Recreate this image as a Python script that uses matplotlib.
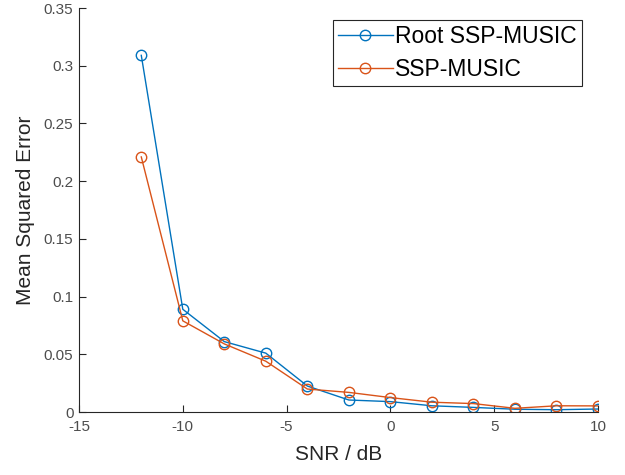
import matplotlib
matplotlib.use("Agg")
import matplotlib.pyplot as plt
import numpy as np

plt.rcParams['font.family'] = ['Liberation Sans', 'DejaVu Sans']
plt.rcParams['axes.unicode_minus'] = False

snr = [-12, -10, -8, -6, -4, -2, 0, 2, 4, 6, 8, 10]
mse_root = [0.309, 0.089, 0.061, 0.051, 0.0225, 0.0104, 0.0090, 0.0054, 0.0040, 0.0024, 0.0020, 0.0026]
mse_ssp = [0.221, 0.079, 0.059, 0.044, 0.0199, 0.0170, 0.0125, 0.0085, 0.0073, 0.0032, 0.0054, 0.0053]

blue = "#0072BD"
orange = "#D95319"
axcol = "#262626"
tickcol = "#4d4d4d"

fig = plt.figure(figsize=(6.25, 4.75), dpi=100)
ax = fig.add_axes([0.1264, 0.1326, 0.8304, 0.8505])

ax.plot(snr, mse_root, "-o", color=blue, lw=1.0, markersize=7.5, markerfacecolor="none", markeredgewidth=1.0, label="Root SSP-MUSIC")
ax.plot(snr, mse_ssp, "-o", color=orange, lw=1.0, markersize=7.5, markerfacecolor="none", markeredgewidth=1.0, label="SSP-MUSIC")

ax.set_xlim(-15, 10)
ax.set_ylim(0, 0.35)
ax.set_xticks(np.arange(-15, 11, 5))
ax.set_yticks(np.arange(0, 0.351, 0.05))
ax.set_yticklabels(["0", "0.05", "0.1", "0.15", "0.2", "0.25", "0.3", "0.35"])

ax.spines["top"].set_visible(False)
ax.spines["right"].set_visible(False)
for s in ["left", "bottom"]:
    ax.spines[s].set_color(axcol)
    ax.spines[s].set_linewidth(0.8)
ax.tick_params(direction="in", length=5, width=0.8, color=axcol, labelcolor=tickcol, labelsize=11)
ax.tick_params(axis="x", pad=6)
ax.tick_params(axis="y", pad=4)

ax.set_xlabel("SNR / dB", fontsize=15, color=axcol, labelpad=8)
ax.set_ylabel("Mean Squared Error", fontsize=15, color=axcol, labelpad=6)

leg = ax.legend(loc="upper right", bbox_to_anchor=(0.969, 0.97), fontsize=16.5, fancybox=False,
                framealpha=1, edgecolor=axcol, handlelength=2.4, borderpad=0.22, labelspacing=0.42,
                handletextpad=0.1, borderaxespad=0)
leg.get_frame().set_linewidth(0.8)

fig.savefig("out.png", dpi=100)
